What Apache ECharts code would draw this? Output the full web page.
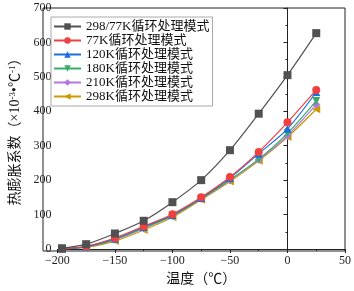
<!DOCTYPE html>
<html>
<head>
<meta charset="utf-8">
<script src="https://cdn.jsdelivr.net/npm/echarts@6/dist/echarts.min.js"></script>
<style>
  html, body { margin: 0; padding: 0; background: #fff; }
  #chart { width: 354px; height: 291px; }
</style>
</head>
<body>
<div id="chart"></div>
<script>
const temps = [-196, -175, -150, -125, -100, -75, -50, -25, 0, 25];
const seriesNames = ["298/77K循环处理模式", "77K循环处理模式", "120K循环处理模式", "180K循环处理模式", "210K循环处理模式", "298K循环处理模式"];
const v29877 = [2, 14, 45, 82, 136, 200, 287, 393, 505, 627];
const v77 = [1, 8, 32, 66, 101, 150, 209, 282, 368, 462];
const v120 = [1, 7, 30, 64, 99, 148, 206, 277, 349, 456];
const v180 = [1, 6, 28, 61, 97, 146, 201, 261, 336, 430];
const v210 = [1, 6, 27, 60, 96, 146, 200, 259, 329, 420];
const v298 = [0, 5, 23, 55, 92, 143, 196, 256, 325, 406];
const allValues = [v29877, v77, v120, v180, v210, v298];

const colors = ["#515151", "#F14040", "#1A6FDF", "#37AD6B", "#B177DE", "#CC9900"];
const symbols = ["rect", "circle", "triangle", "triangle", "diamond", "triangle"];
const rotates = [0, 0, 0, 180, 0, 90];
const font = "'Liberation Serif', 'Noto Sans CJK SC', serif";

const chart = echarts.init(document.getElementById("chart"));
const option = {
  animation: false,
  textStyle: { fontFamily: font },
  grid: { left: 43, right: 9, top: 8, bottom: 40 },
  legend: {
    orient: "vertical",
    left: 51,
    top: 17,
    itemWidth: 27,
    itemHeight: 8,
    itemGap: 1,
    padding: [3, 3, 3, 2],
    borderColor: "#aaa",
    borderWidth: 1,
    backgroundColor: "#fff",
    textStyle: { fontFamily: font, fontSize: 13, color: "#111" },
    data: seriesNames
  },
  xAxis: {
    type: "value",
    min: -200, max: 50, interval: 50,
    name: "温度（℃）",
    nameLocation: "middle",
    nameGap: 23,
    nameTextStyle: { fontFamily: font, fontSize: 14, color: "#111" },
    axisLine: { onZero: false, lineStyle: { color: "#222", width: 1 } },
    axisTick: { inside: false, length: 4, lineStyle: { color: "#222" } },
    minorTick: { show: true, splitNumber: 2, length: 2, lineStyle: { color: "#222" } },
    axisLabel: { fontFamily: font, fontSize: 12, color: "#222", margin: 6,
      formatter: v => v < 0 ? "\u2212" + Math.abs(v) : String(v) },
    splitLine: { show: false }
  },
  yAxis: {
    type: "value",
    min: 0, max: 700, interval: 100,
    name: "热膨胀系数（×10{sup|-3}•℃{sup|-1}）",
    nameLocation: "middle",
    nameGap: 29,
    nameRotate: 90,
    nameTextStyle: { fontFamily: font, fontSize: 14, color: "#111",
      rich: { sup: { fontFamily: font, fontSize: 9, color: "#111", verticalAlign: "top", padding: [0, 0, 6, 0] } } },
    axisLine: { show: true, lineStyle: { color: "#222", width: 1 } },
    axisTick: { inside: false, length: 4, lineStyle: { color: "#222" } },
    minorTick: { show: true, splitNumber: 2, length: 2, lineStyle: { color: "#222" } },
    axisLabel: { fontFamily: font, fontSize: 12, color: "#222", margin: 6 },
    splitLine: { show: false }
  },
  series: seriesNames.map((name, i) => ({
    name: name,
    type: "line",
    smooth: 0.3,
    data: temps.map((t, j) => [t, allValues[i][j]]),
    symbol: symbols[i],
    symbolRotate: rotates[i],
    symbolSize: 8,
    z: 10 - i,
    itemStyle: { color: colors[i] },
    lineStyle: { color: colors[i], width: 1.2 }
  }))
};
// frame on top/right
option.graphic = [{
  type: "rect",
  shape: { x: 43, y: 8, width: 302, height: 243 },
  style: { fill: "none", stroke: "#222", lineWidth: 1 },
  silent: true
}];
chart.setOption(option);
</script>
</body>
</html>
